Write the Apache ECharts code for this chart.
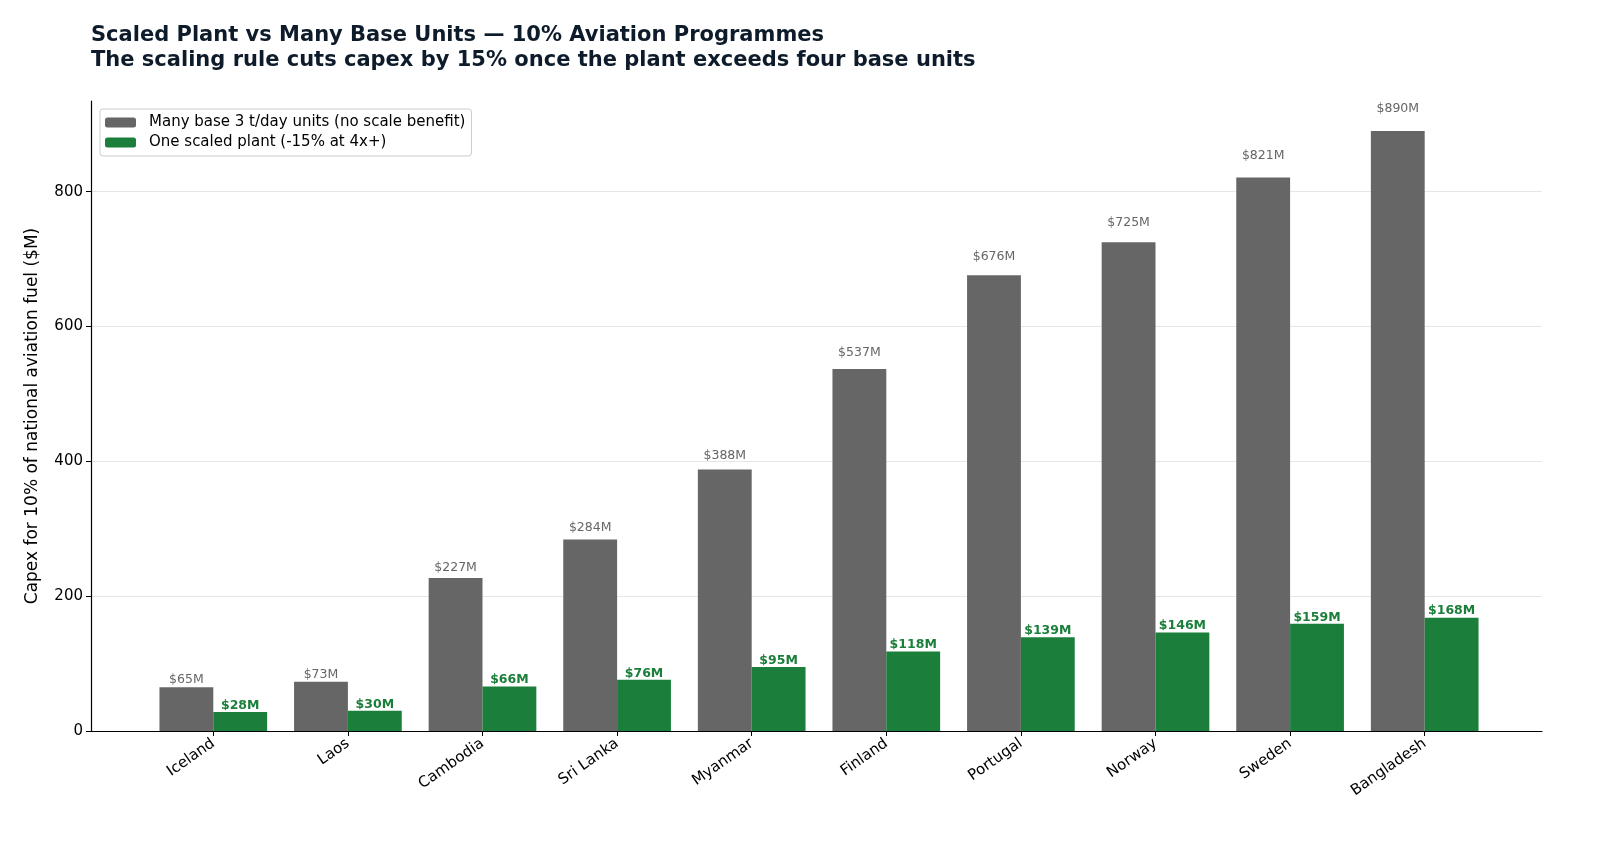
<!DOCTYPE html>
<html>
<head>
<meta charset="utf-8">
<script src="https://cdn.jsdelivr.net/npm/echarts@6/dist/echarts.min.js"></script>
<style>
  html, body { margin: 0; padding: 0; background: #fff; }
  #chart { width: 1600px; height: 853px; }
</style>
</head>
<body>
<div id="chart"></div>
<script>
// data
var countries = ['Iceland', 'Laos', 'Cambodia', 'Sri Lanka', 'Myanmar', 'Finland', 'Portugal', 'Norway', 'Sweden', 'Bangladesh'];
var baseUnits = [65, 73, 227, 284, 388, 537, 676, 725, 821, 890];
var scaledPlant = [28, 30, 66, 76, 95, 118, 139, 146, 159, 168];
var yTicks = [0, 200, 400, 600, 800];

var FONT = 'DejaVu Sans';
var GREY = '#666666';
var GREEN = '#1b7f3b';
var yMax = 934.5;

var myChart = echarts.init(document.getElementById('chart'));

// grey labels sit higher for taller bars
var baseData = baseUnits.map(function(v) {
	return { value: v, label: { distance: Math.round(v * 0.018) } };
});

var option = {
	animation: false,
	backgroundColor: '#fff',
	title: {
		text: 'Scaled Plant vs Many Base Units \u2014 10% Aviation Programmes\nThe scaling rule cuts capex by 15% once the plant exceeds four base units',
		left: 91,
		top: 23,
		padding: 0,
		textStyle: {
			fontFamily: FONT,
			fontSize: 21,
			fontWeight: 'bold',
			color: '#0d1b2a',
			lineHeight: 25
		}
	},
	legend: {
		orient: 'vertical',
		left: 100,
		top: 109,
		padding: [6, 6, 6, 5],
		itemGap: 5,
		itemWidth: 31,
		itemHeight: 10,
		borderColor: '#cccccc',
		borderWidth: 1,
		borderRadius: 3,
		textStyle: { fontFamily: FONT, fontSize: 15, color: '#000', padding: [0, 0, 0, 8] },
		data: ['Many base 3 t/day units (no scale benefit)', 'One scaled plant (-15% at 4x+)']
	},
	grid: [
		{ left: 91, right: 58, top: 101, bottom: 122 },
		{ left: 146, right: 108, top: 101, bottom: 122 }
	],
	xAxis: [
		{
			type: 'value', gridIndex: 0, min: 0, max: 1,
			axisLine: { show: true, lineStyle: { color: '#000', width: 1.2 } },
			axisTick: { show: false }, axisLabel: { show: false }, splitLine: { show: false }
		},
		{
			type: 'category', gridIndex: 1, data: countries,
			axisLine: { show: false },
			axisTick: { show: true, alignWithLabel: true, length: 5, lineStyle: { color: '#000' } },
			axisLabel: { rotate: 35, fontFamily: FONT, fontSize: 15, color: '#000', margin: 11 }
		}
	],
	yAxis: [
		{
			type: 'value', gridIndex: 0, min: 0, max: yMax, interval: 200,
			name: 'Capex for 10% of national aviation fuel ($M)',
			nameLocation: 'middle',
			nameGap: 50,
			nameTextStyle: { fontFamily: FONT, fontSize: 17, color: '#000' },
			axisLine: { show: true, lineStyle: { color: '#000', width: 1.2 } },
			axisTick: { show: true, length: 5, lineStyle: { color: '#000' } },
			axisLabel: {
				fontFamily: FONT, fontSize: 15, color: '#000', margin: 8,
				showMaxLabel: false,
				formatter: function(v) { return yTicks.indexOf(v) >= 0 ? String(v) : ''; }
			},
			splitLine: { show: true, showMaxLine: false, lineStyle: { color: '#e6e6e6', width: 1 } }
		},
		{
			type: 'value', gridIndex: 1, min: 0, max: yMax, show: false
		}
	],
	series: [
		{
			name: 'Many base 3 t/day units (no scale benefit)',
			type: 'bar',
			xAxisIndex: 1, yAxisIndex: 1,
			data: baseData,
			barGap: '0%',
			barCategoryGap: '20%',
			itemStyle: { color: GREY },
			label: {
				show: true, position: 'top',
				fontFamily: FONT, fontSize: 12.5, color: '#666666',
				formatter: function(p) { return '$' + p.value + 'M'; }
			}
		},
		{
			name: 'One scaled plant (-15% at 4x+)',
			type: 'bar',
			xAxisIndex: 1, yAxisIndex: 1,
			data: scaledPlant,
			barGap: '0%',
			barCategoryGap: '20%',
			itemStyle: { color: GREEN },
			label: {
				show: true, position: 'top', distance: 0,
				fontFamily: FONT, fontSize: 12.5, fontWeight: 'bold', color: GREEN,
				formatter: function(p) { return '$' + p.value + 'M'; }
			}
		}
	]
};
myChart.setOption(option);
</script>
</body>
</html>
